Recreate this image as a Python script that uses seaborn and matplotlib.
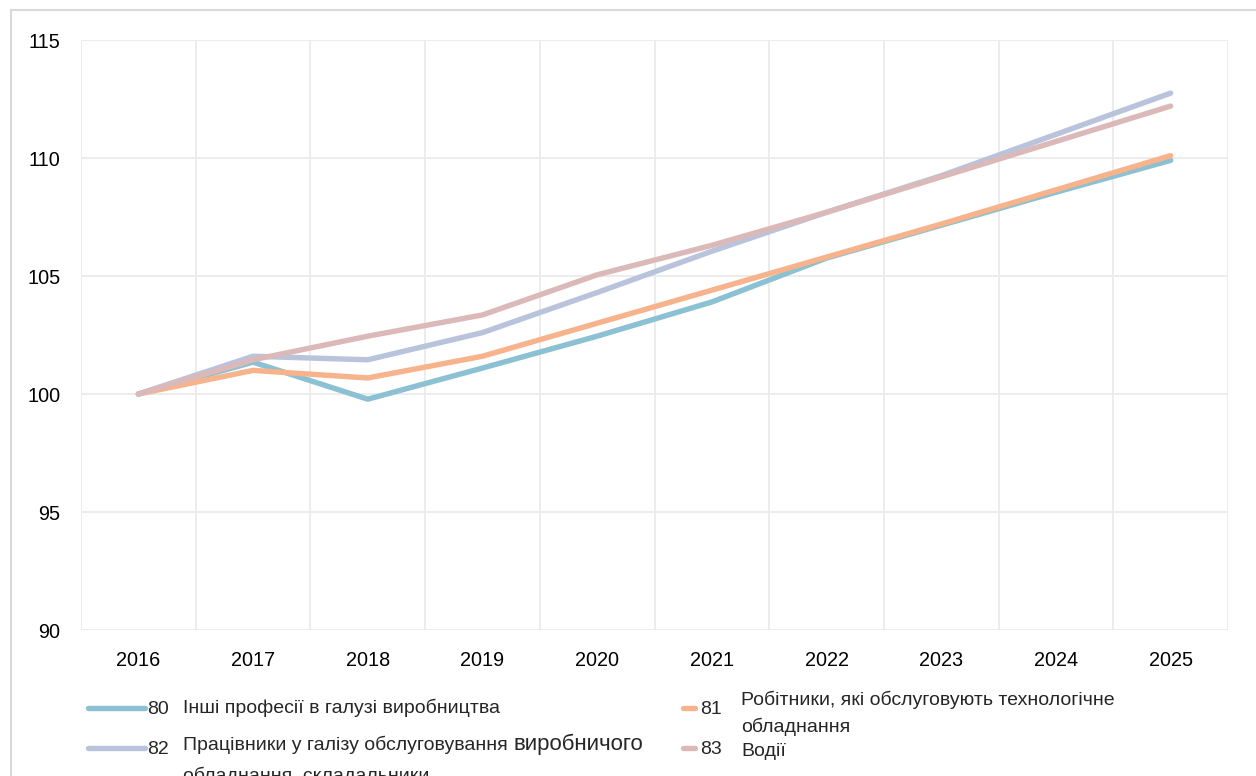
import pandas as pd
import matplotlib
matplotlib.use("Agg")
import matplotlib.pyplot as plt
import seaborn as sns
from matplotlib.lines import Line2D
from matplotlib.patches import Rectangle

# data
years = [2016, 2017, 2018, 2019, 2020, 2021, 2022, 2023, 2024, 2025]
codes = ["80", "81", "82", "83"]
names = [
    "Інші професії в галузі виробництва",
    "Робітники, які обслуговують технологічне\nобладнання",
    "Працівники у галізу обслуговування виробничого\nобладнання, складальники",
    "Водії",
]
s80 = [100, 101.35, 99.78, 101.1, 102.45, 103.9, 105.76, 107.15, 108.55, 109.9]
s81 = [100, 101.0, 100.68, 101.6, 103.0, 104.4, 105.8, 107.2, 108.65, 110.1]
s82 = [100, 101.6, 101.45, 102.6, 104.3, 106.05, 107.7, 109.25, 111.0, 112.75]
s83 = [100, 101.45, 102.45, 103.35, 105.05, 106.3, 107.7, 109.2, 110.7, 112.2]
colors = ["#8BC1D3", "#F7B38B", "#B9C3DC", "#DCB9B9"]

df = pd.concat([
    pd.DataFrame({"x": range(len(years)), "value": vals, "code": c})
    for c, vals in zip(codes, [s80, s81, s82, s83])
])

sns.set_style("white")
plt.rcParams["font.family"] = ["Liberation Sans", "DejaVu Sans"]

W, H = 1256, 776
fig = plt.figure(figsize=(W / 100, H / 100), dpi=100)
ax = fig.add_axes([81 / W, (H - 630) / H, (1228 - 81) / W, 590 / H])

sns.lineplot(data=df, x="x", y="value", hue="code", palette=colors,
             linewidth=3.9, sort=False, legend=False, ax=ax,
             solid_capstyle="round", solid_joinstyle="round")

ax.set_xlim(-0.5, len(years) - 0.5)
ax.set_ylim(90, 115)
ax.set_yticks(range(90, 116, 5))
ax.set_xticks(range(len(years)))
ax.set_xticklabels([str(y) for y in years])
ax.set_xticks([i - 0.5 for i in range(len(years) + 1)], minor=True)
ax.grid(False)
ax.grid(True, which="minor", axis="x", color="#EBEBEB", linewidth=1.3)
ax.grid(True, which="major", axis="y", color="#EBEBEB", linewidth=1.3)
ax.set_axisbelow(True)
for sp in ax.spines.values():
    sp.set_visible(False)
ax.tick_params(axis="both", which="both", length=0, labelsize=14.3, colors="#000000")
ax.tick_params(axis="x", pad=15)
ax.tick_params(axis="y", pad=15)
ax.set_xlabel("")
ax.set_ylabel("")

# chart area border
fig.add_artist(Rectangle((11 / W, -0.1), 1.2, (H - 10) / H + 0.1, transform=fig.transFigure,
                         fill=False, edgecolor="#D9D9D9", linewidth=1.5))

# legend, drawn by hand to follow the original layout
def fx(px):
    return px / W
def fy(py):
    return 1 - py / H

fs = 14
handles = [(88, 145, 708), (683, 695, 708), (88, 145, 748), (683, 695, 748)]
num_x = [147, 700, 147, 700]
for i, (x0, x1, ly) in enumerate(handles):
    fig.add_artist(Line2D([fx(x0), fx(x1)], [fy(ly), fy(ly)], transform=fig.transFigure,
                          color=colors[i], linewidth=3.9, solid_capstyle="round"))
    fig.text(fx(num_x[i]), fy(ly + 1), codes[i], ha="left", va="center", fontsize=fs)

fig.text(fx(183), fy(708), names[0], ha="left", va="center", fontsize=fs)
fig.text(fx(741), fy(700), names[1].split("\n")[0], ha="left", va="center", fontsize=fs)
fig.text(fx(741), fy(727), names[1].split("\n")[1], ha="left", va="center", fontsize=fs)
fig.text(fx(741), fy(752), names[3], ha="left", va="center", fontsize=fs)

# the original mixes two sizes in this label
first, rest = names[2].split("\n")
head = first.rsplit(" ", 1)[0] + " "
tail = first.rsplit(" ", 1)[1]
t1 = fig.text(fx(183), fy(745), head, ha="left", va="center", fontsize=fs)
renderer = fig.canvas.get_renderer()
bb = t1.get_window_extent(renderer)
fig.text(bb.x1 / W, fy(744), tail, ha="left", va="center", fontsize=16)
fig.text(fx(183), fy(776), rest, ha="left", va="center", fontsize=fs)

fig.savefig("out.png", dpi=100)
